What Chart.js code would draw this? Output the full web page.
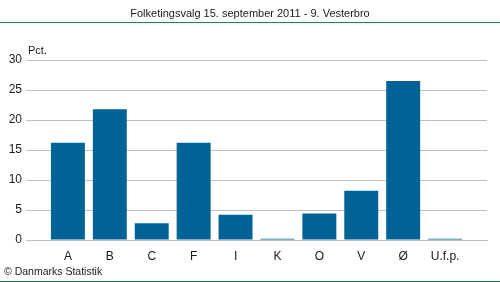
<!DOCTYPE html>
<html>
<head>
<meta charset="utf-8">
<script src="https://cdn.jsdelivr.net/npm/chart.js@4/dist/chart.umd.min.js"></script>
<style>
  html, body { margin: 0; padding: 0; background: #fff; }
  #wrap { position: relative; width: 500px; height: 282px; overflow: hidden; font-family: "Liberation Sans", Arial, sans-serif; }
  #c { position: absolute; left: 0; top: 0; }
  #title { position: absolute; left: 0; width: 500px; top: 7px; text-align: center; font-size: 11px; color: #1a1a1a; line-height: 13px; }
  .gline { position: absolute; left: 0; width: 500px; height: 1px; background: #0f8a4a; }
  #pct { position: absolute; left: 28px; top: 44px; font-size: 11px; color: #1a1a1a; line-height: 13px; }
  #copy { position: absolute; left: 4px; top: 265px; font-size: 10.5px; color: #1a1a1a; line-height: 13px; }
</style>
</head>
<body>
<div id="wrap">
  <canvas id="c" width="500" height="282"></canvas>
  <div id="title">Folketingsvalg 15. september 2011 - 9. Vesterbro</div>
  <div class="gline" style="top:22px"></div>
  <div id="pct">Pct.</div>
  <div id="copy">© Danmarks Statistik</div>
  <div class="gline" style="top:281px"></div>
</div>
<script>
const categories = ['A', 'B', 'C', 'F', 'I', 'K', 'O', 'V', 'Ø', 'U.f.p.'];
const values = [16.2, 21.8, 2.8, 16.2, 4.2, 0.2, 4.4, 8.2, 26.5, 0.2];
const yTicks = [0, 5, 10, 15, 20, 25, 30];

// pad the category axis with one empty slot at each end
const labels = [''].concat(categories, ['']);
const data = [null].concat(values, [null]);

new Chart(document.getElementById('c'), {
  type: 'bar',
  data: {
    labels: labels,
    datasets: [{
      data: data,
      backgroundColor: '#006395',
      borderWidth: 0,
      categoryPercentage: 0.81,
      barPercentage: 1.0
    }]
  },
  options: {
    responsive: false,
    animation: false,
    events: [],
    layout: { padding: { left: 0, right: 13, top: 60, bottom: 0 } },
    plugins: { legend: { display: false }, tooltip: { enabled: false }, title: { display: false } },
    scales: {
      x: {
        type: 'category',
        offset: false,
        grid: { display: false, drawTicks: false },
        border: { display: true, color: '#c0bfc8', width: 1 },
        ticks: { padding: 9, color: '#1a1a1a', font: { family: 'Liberation Sans', size: 12 }, autoSkip: false, maxRotation: 0 },
        afterFit: s => { s.height = 42; }
      },
      y: {
        min: 0, max: 30,
        afterBuildTicks: s => { s.ticks = yTicks.map(v => ({ value: v })); },
        grid: { color: '#c0bfc8', lineWidth: 1, drawTicks: false },
        border: { display: false },
        ticks: { padding: 4, color: '#1a1a1a', font: { family: 'Liberation Sans', size: 12 } },
        afterFit: s => { s.width = 26; }
      }
    }
  }
});
</script>
</body>
</html>
